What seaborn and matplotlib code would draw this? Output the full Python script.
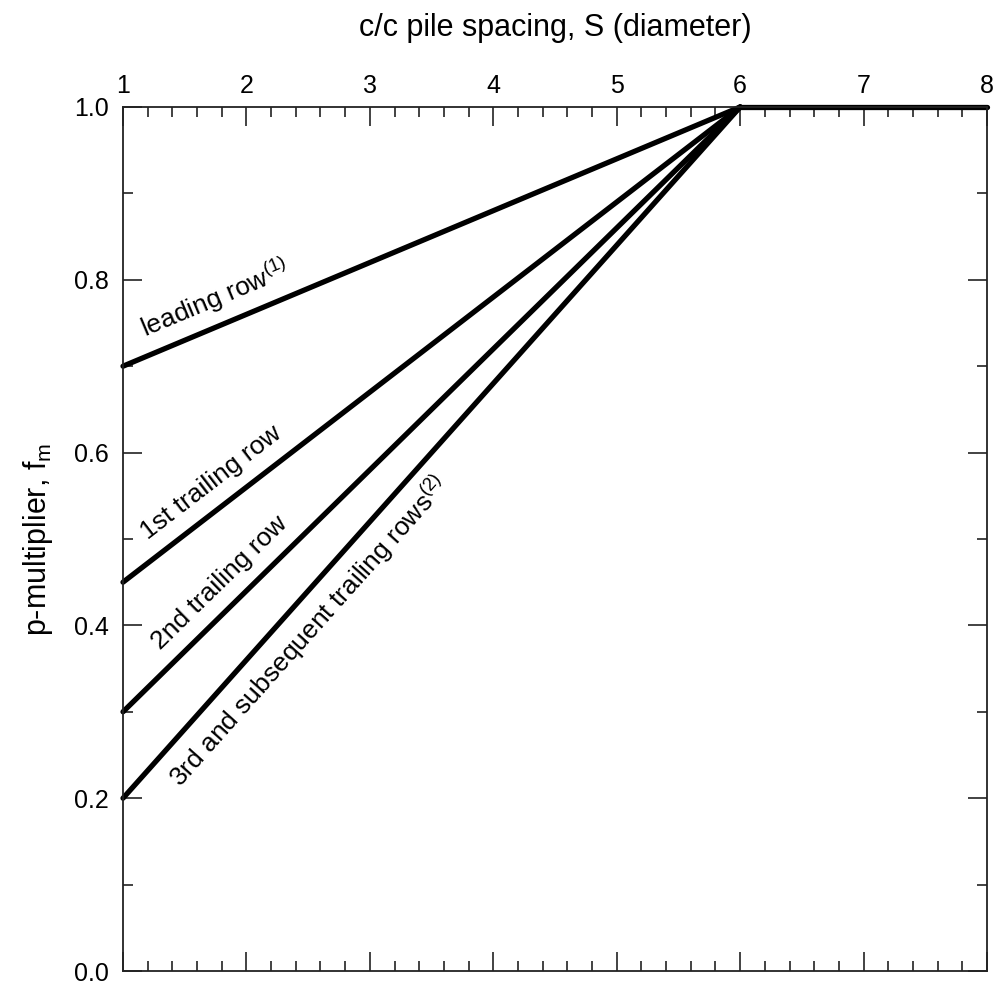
import numpy as np
import pandas as pd
import matplotlib
matplotlib.use("Agg")
import matplotlib.pyplot as plt
from matplotlib.ticker import MultipleLocator
import seaborn as sns

# ---- data ----
rows = ["leading row", "1st trailing row", "2nd trailing row",
        "3rd and subsequent trailing rows"]
row_labels = [r"leading row$^{\mathrm{(1)}}$", "1st trailing row", "2nd trailing row",
              r"3rd and subsequent trailing rows$^{\mathrm{(2)}}$"]
spacing_pts = [1, 6]
fm_at_1 = [0.70, 0.45, 0.30, 0.20]
fm_at_6 = [1.0, 1.0, 1.0, 1.0]
plateau_S = [6, 8]
plateau_fm = [1.0, 1.0]
x_ticks = [1, 2, 3, 4, 5, 6, 7, 8]
y_ticks = [0.0, 0.2, 0.4, 0.6, 0.8, 1.0]

# label anchors (data coords, start of text baseline)
label_x = [1.178, 1.203, 1.30, 1.47]
label_y = [0.733, 0.499, 0.3715, 0.212]

sns.set_theme(style="ticks")
plt.rcParams["font.family"] = ["Liberation Sans", "DejaVu Sans"]
plt.rcParams["mathtext.fontset"] = "custom"
plt.rcParams["mathtext.rm"] = "Liberation Sans"
plt.rcParams["mathtext.it"] = "Liberation Sans:italic"

records = []
for r, a, b in zip(rows, fm_at_1, fm_at_6):
    records.append({"row": r, "S": spacing_pts[0], "fm": a})
    records.append({"row": r, "S": spacing_pts[1], "fm": b})
df = pd.DataFrame(records)
df_plat = pd.DataFrame({"S": plateau_S, "fm": plateau_fm})

fig = plt.figure(figsize=(9.96, 9.86), dpi=100)
ax = fig.add_axes([0.1235, 0.0152, 0.8675, 0.8763])

sns.lineplot(data=df, x="S", y="fm", hue="row", palette=["black"] * len(rows),
             legend=False, linewidth=3.8, ax=ax, solid_capstyle="round", clip_on=False)
sns.lineplot(data=df_plat, x="S", y="fm", color="black", linewidth=3.8, ax=ax,
             solid_capstyle="round", clip_on=False)

ax.set_xlim(1, 8)
ax.set_ylim(0, 1.0)
ax.set_xticks(x_ticks)
ax.set_yticks(y_ticks)
ax.set_yticklabels([f"{v:.1f}" for v in y_ticks])
ax.xaxis.set_minor_locator(MultipleLocator(0.2))
ax.yaxis.set_minor_locator(MultipleLocator(0.1))

edge = "#222222"
for s in ax.spines.values():
    s.set_color(edge)
    s.set_linewidth(1.3)
ax.tick_params(which="both", direction="in", top=True, bottom=True, left=True,
               right=True, labeltop=True, labelbottom=False, color=edge,
               width=1.2, labelsize=18, labelcolor="black")
ax.tick_params(which="major", length=13.7)
ax.tick_params(which="minor", length=7.2)
ax.tick_params(axis="x", which="major", pad=6.5)
ax.tick_params(axis="y", which="major", pad=10)

ax.xaxis.set_label_position("top")
ax.set_xlabel("c/c pile spacing, S (diameter)", fontsize=22, labelpad=27, color="black")
ax.set_ylabel(r"p-multiplier, f$_{\mathrm{m}}$", fontsize=22, labelpad=14, color="black")

# rotated row labels
fig.canvas.draw()
for lab, a, b, lx, ly in zip(row_labels, fm_at_1, fm_at_6, label_x, label_y):
    p0 = ax.transData.transform((spacing_pts[0], a))
    p1 = ax.transData.transform((spacing_pts[1], b))
    ang = np.degrees(np.arctan2(p1[1] - p0[1], p1[0] - p0[0]))
    ax.text(lx, ly, lab, rotation=ang, rotation_mode="anchor", ha="left",
            va="baseline", fontsize=19, color="black")

fig.savefig("out.png", dpi=100)
